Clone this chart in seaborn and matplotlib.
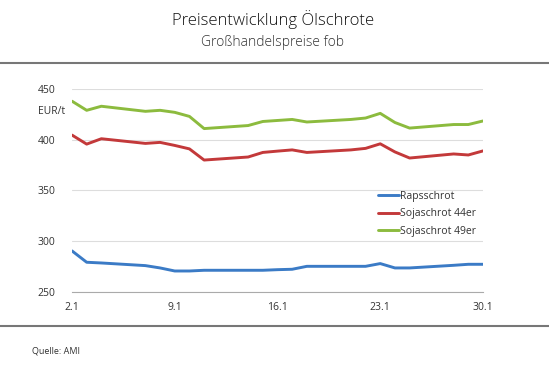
import pandas as pd
import matplotlib.pyplot as plt
import seaborn as sns

# Handelstage Januar 2019 (Tag im Monat)
tage = [2, 3, 4, 7, 8, 9, 10, 11, 14, 15, 16, 17, 18, 21, 22, 23, 24, 25, 28, 29, 30]

rapsschrot = [290.5, 279.3, 278.6, 276.0, 273.7, 270.7, 270.7, 271.4, 271.4, 271.4, 272.0,
              272.4, 275.3, 275.3, 275.3, 278.0, 273.7, 273.7, 276.3, 277.3, 277.3]
soja_44 = [404.6, 395.7, 401.0, 396.4, 397.4, 394.4, 391.0, 380.0, 383.0, 387.5, 388.8,
           390.0, 387.5, 390.0, 391.5, 396.0, 388.0, 382.0, 386.0, 385.0, 389.0]
soja_49 = [438.0, 429.0, 433.0, 428.0, 429.0, 427.0, 423.0, 411.0, 414.0, 418.0, 419.0,
           420.0, 417.5, 420.0, 421.4, 426.0, 417.0, 411.5, 415.0, 415.0, 418.5]

serien = ['Rapsschrot', 'Sojaschrot 44er', 'Sojaschrot 49er']
farben = ['#3b7bc6', '#c3393a', '#8cbb3e']
x_ticks = [2, 9, 16, 23, 30]
x_labels = ['2.1', '9.1', '16.1', '23.1', '30.1']

df = pd.DataFrame({
    'Tag': tage * 3,
    'Preis': rapsschrot + soja_44 + soja_49,
    'Serie': [s for s in serien for _ in tage],
})

sns.set_style('white')
plt.rcParams['font.family'] = ['Open Sans', 'DejaVu Sans']

fig = plt.figure(figsize=(5.49, 3.74), dpi=100)
ax = fig.add_axes([72 / 549, 1 - 292 / 374, 411 / 549, 203 / 374])

sns.lineplot(data=df, x='Tag', y='Preis', hue='Serie', palette=farben,
             linewidth=2.1, ax=ax)

ax.set_xlim(2, 30)
ax.set_ylim(250, 450)
ax.set_xticks(x_ticks)
ax.set_xticklabels(x_labels)
ax.set_yticks([250, 300, 350, 400, 450])
ax.yaxis.grid(True, color='#dddddd', linewidth=0.8)
ax.set_axisbelow(True)
for s in ['top', 'right', 'left']:
    ax.spines[s].set_visible(False)
ax.spines['bottom'].set_color('#aaaaaa')
ax.tick_params(axis='x', length=4, color='#aaaaaa', labelsize=7.5, pad=3, labelcolor='#333333')
ax.tick_params(axis='y', length=0, labelsize=7.5, pad=12, labelcolor='#333333')
ax.set_xlabel('')
ax.set_ylabel('')
ax.text(-0.017, 0.887, 'EUR/t', transform=ax.transAxes, ha='right', va='center',
        fontsize=7.5, color='#333333')

ax.legend(loc='upper left', bbox_to_anchor=(378 / 549, 1 - 191 / 374),
          bbox_transform=fig.transFigure, frameon=False, fontsize=7.5,
          handlelength=2.0, handletextpad=0.15, labelspacing=0.62,
          borderpad=0, borderaxespad=0, labelcolor='#333333')

fig.text(0.497, 1 - 20 / 374, 'Preisentwicklung Ölschrote', ha='center', va='center',
         fontsize=12, fontweight='light', color='#111111')
fig.text(0.497, 1 - 42 / 374, 'Großhandelspreise fob', ha='center', va='center',
         fontsize=10, fontweight='light', color='#333333')
fig.add_artist(plt.Line2D([0, 1], [1 - 63 / 374, 1 - 63 / 374], color='#777777', linewidth=1.5))
fig.add_artist(plt.Line2D([0, 1], [1 - 326 / 374, 1 - 326 / 374], color='#777777', linewidth=1.5))
fig.text(32 / 549, 1 - 351 / 374, 'Quelle: AMI', ha='left', va='center',
         fontsize=6.5, color='#333333')

fig.savefig('out.png', dpi=100)
